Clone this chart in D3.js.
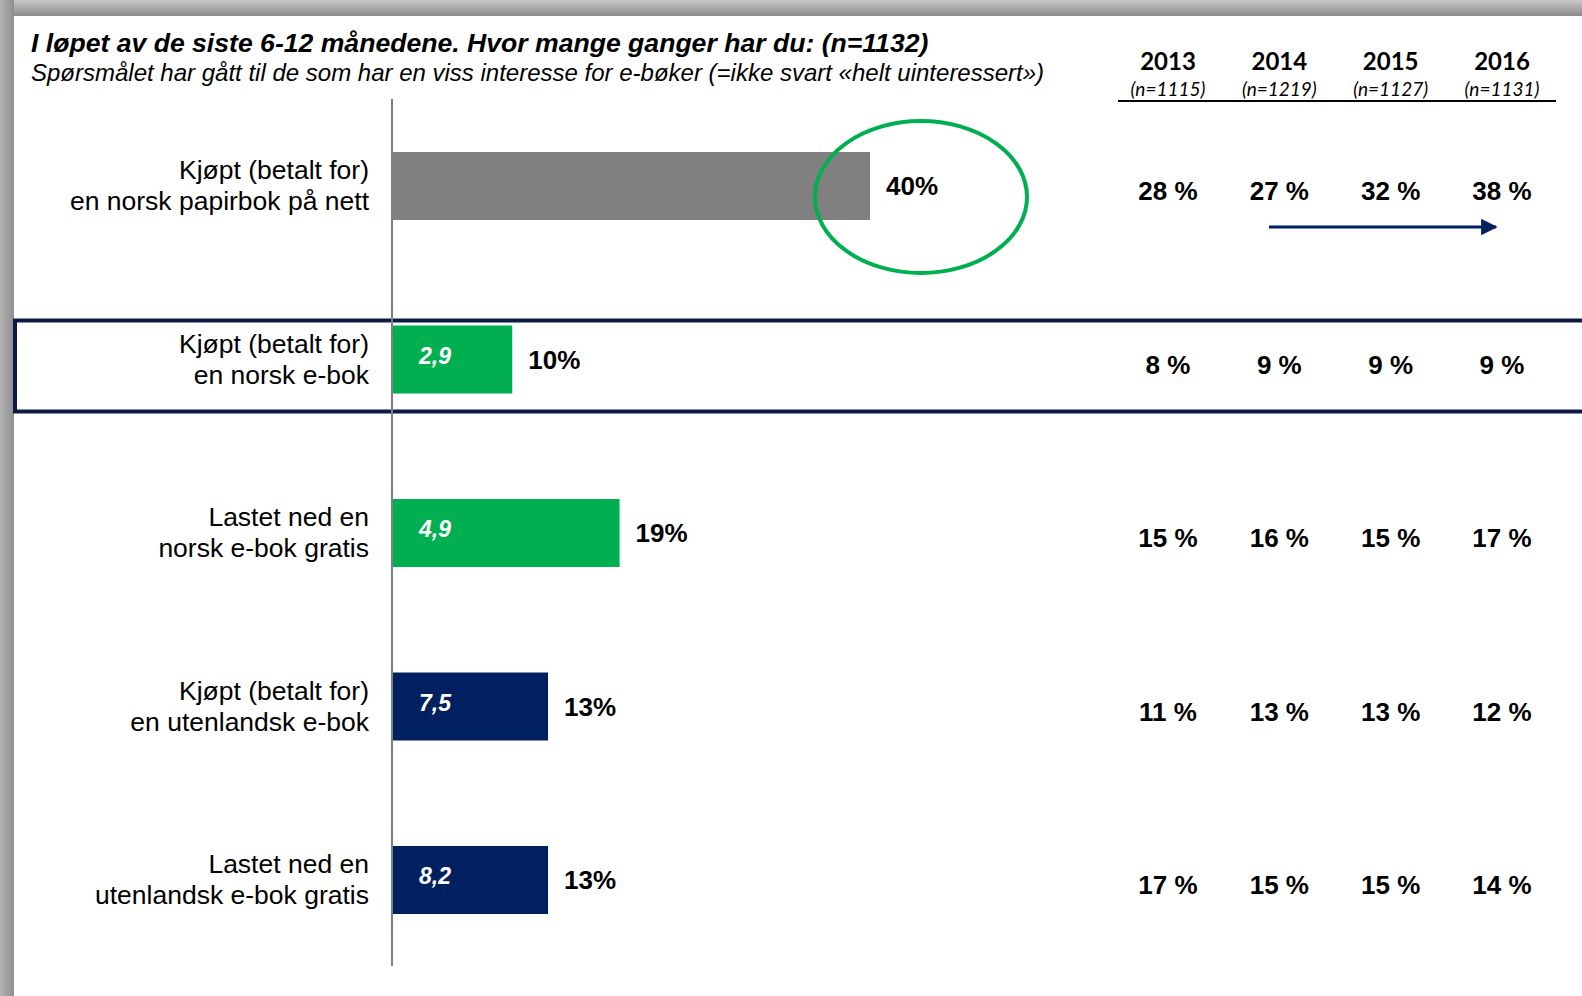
<!DOCTYPE html>
<html lang="no">
<head>
    <meta charset="UTF-8">
    <script src="https://d3js.org/d3.v7.min.js"></script>
    <style>
        body { margin: 0; background: #fff; }
        text { font-family: "Liberation Sans", Arial, sans-serif; }
        .cal { font-family: Lato, "Open Sans", sans-serif; }
    </style>
</head>
<body>
    <svg id="chart" width="1582" height="996"></svg>
    <script>
        // Data
        const categories = [
            ["Kjøpt (betalt for)", "en norsk papirbok på nett"],
            ["Kjøpt (betalt for)", "en norsk e-bok"],
            ["Lastet ned en", "norsk e-bok gratis"],
            ["Kjøpt (betalt for)", "en utenlandsk e-bok"],
            ["Lastet ned en", "utenlandsk e-bok gratis"]
        ];
        const values = [40, 10, 19, 13, 13];
        const innerLabels = ["", "2,9", "4,9", "7,5", "8,2"];
        const barColors = ["#808080", "#00b050", "#00b050", "#002060", "#002060"];

        const years = ["2013", "2014", "2015", "2016"];
        const yearN = ["(n=1115)", "(n=1219)", "(n=1127)", "(n=1131)"];
        const v2013 = [28, 8, 15, 11, 17];
        const v2014 = [27, 9, 16, 13, 15];
        const v2015 = [32, 9, 15, 13, 15];
        const v2016 = [38, 9, 17, 12, 14];
        const yearValues = [v2013, v2014, v2015, v2016];

        const title = "I løpet av de siste 6-12 månedene. Hvor mange ganger har du: (n=1132)";
        const subtitle = "Spørsmålet har gått til de som har en viss interesse for e-bøker (=ikke svart «helt uinteressert»)";

        const width = 1582, height = 996;
        const svg = d3.select("#chart");
        const defs = svg.append("defs");

        // grå ramme (skygge)
        const gTop = defs.append("linearGradient").attr("id", "gTop").attr("x1", 0).attr("y1", 0).attr("x2", 0).attr("y2", 1);
        gTop.append("stop").attr("offset", "0%").attr("stop-color", "#c8c8c8");
        gTop.append("stop").attr("offset", "100%").attr("stop-color", "#8c8c8c");
        const gLeft = defs.append("linearGradient").attr("id", "gLeft").attr("x1", 0).attr("y1", 0).attr("x2", 1).attr("y2", 0);
        gLeft.append("stop").attr("offset", "0%").attr("stop-color", "#b4b4b4");
        gLeft.append("stop").attr("offset", "100%").attr("stop-color", "#8e8e8e");

        svg.append("rect").attr("x", 0).attr("y", 0).attr("width", width).attr("height", 16).attr("fill", "url(#gTop)");
        svg.append("rect").attr("x", 0).attr("y", 0).attr("width", 14).attr("height", height).attr("fill", "url(#gLeft)");

        defs.append("marker")
            .attr("id", "arrow")
            .attr("viewBox", "0 0 10 10")
            .attr("refX", 9).attr("refY", 5)
            .attr("markerWidth", 5.5).attr("markerHeight", 5.5)
            .attr("markerUnits", "strokeWidth")
            .attr("orient", "auto")
            .append("path").attr("d", "M0,0L10,5L0,10Z").attr("fill", "#002060");

        // Titler
        svg.append("text")
            .attr("x", 31).attr("y", 52)
            .style("font-size", "26.6px").style("font-weight", "bold").style("font-style", "italic")
            .text(title);
        svg.append("text")
            .attr("x", 31).attr("y", 81)
            .style("font-size", "24px").style("font-style", "italic")
            .text(subtitle);

        // Skalaer
        const y = d3.scalePoint()
            .domain(d3.range(categories.length))
            .range([186, 880]);
        const x = d3.scaleLinear()
            .domain([0, 40])
            .range([393, 870]);
        const col = d3.scalePoint()
            .domain(years)
            .range([1168, 1502]);
        const barH = 68;

        // Markert rad
        svg.append("rect")
            .attr("x", 15).attr("y", y(1) - 39)
            .attr("width", width).attr("height", 91)
            .attr("fill", "none")
            .attr("stroke", "#0c1a45")
            .attr("stroke-width", 4);

        // Akse
        svg.append("line")
            .attr("x1", x(0) - 1).attr("x2", x(0) - 1)
            .attr("y1", 99).attr("y2", 966)
            .attr("stroke", "#808080").attr("stroke-width", 2);

        // Kategorier
        const cat = svg.selectAll(".cat")
            .data(categories)
            .enter().append("text")
            .attr("class", "cat")
            .attr("text-anchor", "end")
            .style("font-size", "26.5px")
            .attr("fill", "#000");
        cat.each(function(d, i) {
            d3.select(this).selectAll("tspan")
                .data(d)
                .enter().append("tspan")
                .attr("x", 369)
                .attr("y", (t, j) => y(i) - 7 + j * 31)
                .text(t => t);
        });

        // Søyler
        svg.selectAll(".bar")
            .data(values)
            .enter().append("rect")
            .attr("class", "bar")
            .attr("x", x(0))
            .attr("y", (d, i) => y(i) - barH / 2)
            .attr("width", d => x(d) - x(0))
            .attr("height", barH)
            .attr("fill", (d, i) => barColors[i]);

        svg.selectAll(".val")
            .data(values)
            .enter().append("text")
            .attr("class", "val")
            .attr("x", d => x(d) + 16)
            .attr("y", (d, i) => y(i) + 9)
            .style("font-size", "26px").style("font-weight", "bold")
            .text(d => `${d}%`);

        svg.selectAll(".inner")
            .data(innerLabels)
            .enter().append("text")
            .attr("class", "inner")
            .attr("x", x(0) + 26)
            .attr("y", (d, i) => y(i) + 4)
            .attr("fill", "#fff")
            .style("font-size", "23px").style("font-weight", "bold").style("font-style", "italic")
            .text(d => d);

        // Grønn ellipse rundt 40%
        svg.append("ellipse")
            .attr("cx", x(values[0]) + 51).attr("cy", y(0) + 11)
            .attr("rx", 106).attr("ry", 76)
            .attr("fill", "none")
            .attr("stroke", "#00b050")
            .attr("stroke-width", 4);

        // Tabell med tidligere år
        svg.selectAll(".year")
            .data(years)
            .enter().append("text")
            .attr("class", "year cal")
            .attr("x", d => col(d)).attr("y", 70)
            .attr("text-anchor", "middle")
            .style("font-size", "24px").style("font-weight", "bold")
            .text(d => d);
        svg.selectAll(".yearn")
            .data(yearN)
            .enter().append("text")
            .attr("class", "yearn cal")
            .attr("x", (d, i) => col(years[i])).attr("y", 96)
            .attr("text-anchor", "middle")
            .style("font-size", "19px").style("font-style", "italic")
            .text(d => d);
        svg.append("line")
            .attr("x1", 1118).attr("x2", 1556)
            .attr("y1", 101).attr("y2", 101)
            .attr("stroke", "#000").attr("stroke-width", 2);

        years.forEach((yr, k) => {
            svg.selectAll(`.tv${yr}`)
                .data(yearValues[k])
                .enter().append("text")
                .attr("x", col(yr))
                .attr("y", (d, i) => y(i) + 14)
                .attr("text-anchor", "middle")
                .style("font-size", "26px").style("font-weight", "bold")
                .text(d => `${d} %`);
        });

        // Pil for trend
        svg.append("line")
            .attr("x1", 1269).attr("x2", 1496)
            .attr("y1", y(0) + 41).attr("y2", y(0) + 41)
            .attr("stroke", "#002060").attr("stroke-width", 3)
            .attr("marker-end", "url(#arrow)");
    </script>
</body>
</html>
